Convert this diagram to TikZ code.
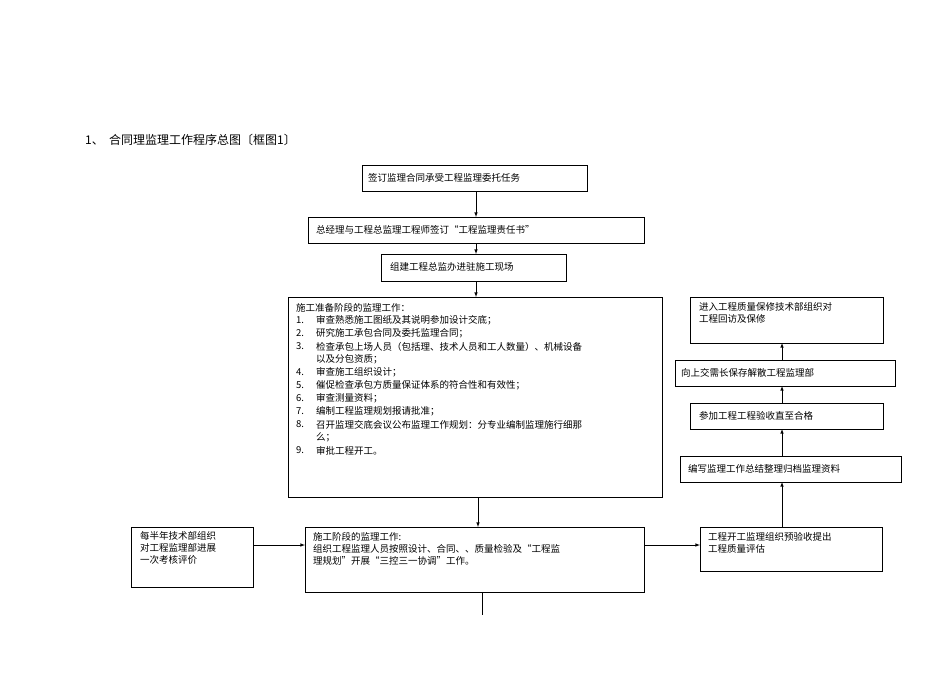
\documentclass[tikz,border=0pt]{standalone}
\usepackage{fontspec}
\setmainfont{Noto Sans CJK SC}
\begin{document}
\begin{tikzpicture}[x=1pt,y=-1pt,
  bx/.style={draw,line width=0.6pt},
  tx/.style={anchor=west,inner sep=0pt,font=\fontsize{9.5}{12}\selectfont},
  ar/.style={-latex,line width=0.6pt}]
\useasboundingbox (0,0) rectangle (950,672);
\node[tx,font=\fontsize{12}{14}\selectfont] (title) at (85,140) {1、\ \ 合同理监理工作程序总图〔框图1〕};
% boxes
\draw[bx] (362,165) rectangle (587,191); \coordinate (b1t) at (476,191);
\node[tx] (t1) at (368,178) {签订监理合同承受工程监理委托任务};
\draw[bx] (308,217) rectangle (644,243);
\node[tx] (t2) at (316,230) {总经理与工程总监理工程师签订“工程监理责任书”};
\draw[bx] (381,254) rectangle (566,281);
\node[tx] (t3) at (390,267) {组建工程总监办进驻施工现场};
\draw[bx] (288,297) rectangle (662,497);
\node[tx] (h) at (296,308) {施工准备阶段的监理工作：};
\foreach \n/\y/\t in {1./320.5/审查熟悉施工图纸及其说明参加设计交底；,
  2./333.5/研究施工承包合同及委托监理合同；,
  3./346.5/检查承包上场人员（包括理、技术人员和工人数量）、机械设备,
  /359.5/以及分包资质；,
  4./372.5/审查施工组织设计；,
  5./385.5/催促检查承包方质量保证体系的符合性和有效性；,
  6./398.5/审查测量资料；,
  7./411.5/编制工程监理规划报请批准；,
  8./424.5/召开监理交底会议公布监理工作规划：分专业编制监理施行细那,
  /437.5/么；,
  9./450.5/审批工程开工。}{
  \node[tx] at (296,\y) {\n};
  \node[tx] at (316,\y) {\t};
}
\draw[bx] (131,527) rectangle (253,587);
\node[tx,align=left,anchor=north west] (t5) at (140,531) {每半年技术部组织\\对工程监理部进展\\一次考核评价};
\draw[bx] (305,527) rectangle (644,592);
\node[tx,align=left,anchor=north west] (t6) at (313,532) {施工阶段的监理工作:\\组织工程监理人员按照设计、合同、、质量检验及“工程监\\理规划”开展“三控三一协调”工作。};
\draw[bx] (700,527) rectangle (882,571);
\node[tx,align=left,anchor=north west] (t7) at (708,532) {工程开工监理组织预验收提出\\工程质量评估};
\draw[bx] (690,297) rectangle (883,343);
\node[tx,align=left,anchor=north west] (r1) at (699,302) {进入工程质量保修技术部组织对\\工程回访及保修};
\draw[bx] (675,360) rectangle (895,386);
\node[tx] (r2) at (681,373) {向上交需长保存解散工程监理部};
\draw[bx] (690,403) rectangle (883,429);
\node[tx] (r3) at (699,416) {参加工程工程验收直至合格};
\draw[bx] (680,456) rectangle (901,482);
\node[tx] (r4) at (688,469) {编写监理工作总结整理归档监理资料};
% arrows
\draw[ar] (476,191) -- (476,217);
\draw[ar] (476,243) -- (476,254);
\draw[ar] (476,281) -- (476,297);
\draw[ar] (478,497) -- (478,527);
\draw[ar] (253,545) -- (305,545);
\draw[ar] (644,545) -- (700,545);
\draw[ar] (782,527) -- (782,482);
\draw[ar] (782,456) -- (782,429);
\draw[ar] (782,403) -- (782,386);
\draw[ar] (782,360) -- (782,343);
\draw[line width=0.6pt] (482,592) -- (482,615);
\end{tikzpicture}
\end{document}
